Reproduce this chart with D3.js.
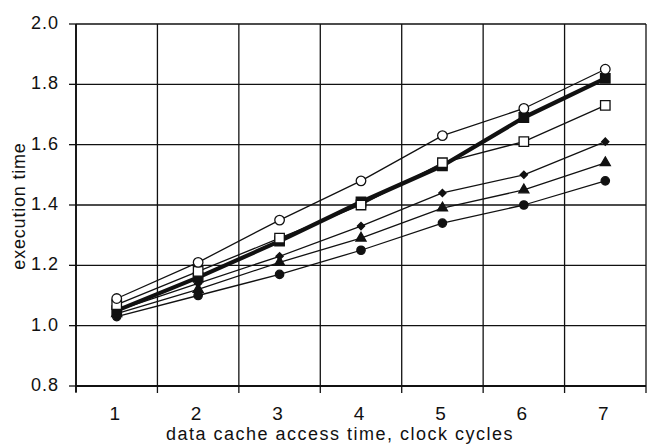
<!DOCTYPE html>
<html>
<head>
<meta charset="utf-8">
<script src="https://cdn.jsdelivr.net/npm/d3@7"></script>
<style>
  html, body { margin: 0; padding: 0; background: #fff; }
  svg { display: block; }
  text { font-family: "Liberation Sans", Arial, sans-serif; fill: #111; }
</style>
</head>
<body>
<svg id="chart" width="651" height="446"></svg>
<script>
// ---- data ----
const categories = ["1", "2", "3", "4", "5", "6", "7"];
const yTicks = [0.8, 1.0, 1.2, 1.4, 1.6, 1.8, 2.0];
const openCircle   = [1.09, 1.21, 1.35, 1.48, 1.63, 1.72, 1.85];
const filledSquare = [1.05, 1.16, 1.28, 1.41, 1.53, 1.69, 1.82];
const openSquare   = [1.07, 1.18, 1.29, 1.40, 1.54, 1.61, 1.73];
const diamond      = [1.05, 1.14, 1.23, 1.33, 1.44, 1.50, 1.61];
const triangle     = [1.04, 1.12, 1.21, 1.29, 1.39, 1.45, 1.54];
const filledCircle = [1.03, 1.10, 1.17, 1.25, 1.34, 1.40, 1.48];
const xTitle = "data cache access time, clock cycles";
const yTitle = "execution time";

// ---- layout ----
const svg = d3.select("#chart");
const pLeft = 76, pRight = 646, pTop = 24, pBottom = 386;
const x = d3.scaleBand().domain(categories).range([pLeft, pRight]).paddingInner(0).paddingOuter(0);
const y = d3.scaleLinear().domain([0.8, 2.0]).range([pBottom, pTop]);
const ink = "#111";

// horizontal grid
svg.append("g").selectAll("line").data(yTicks).join("line")
  .attr("x1", pLeft).attr("x2", pRight)
  .attr("y1", d => y(d)).attr("y2", d => y(d))
  .attr("stroke", ink).attr("stroke-width", 1.3);

// vertical grid at band boundaries
const bounds = categories.map(c => x(c)).concat([x(categories[categories.length - 1]) + x.bandwidth()]);
svg.append("g").selectAll("line").data(bounds).join("line")
  .attr("x1", d => d).attr("x2", d => d)
  .attr("y1", pTop).attr("y2", pBottom)
  .attr("stroke", ink).attr("stroke-width", 1.3);

// axis lines thicker
svg.append("line").attr("x1", pLeft).attr("x2", pLeft).attr("y1", pTop).attr("y2", pBottom + 6)
  .attr("stroke", ink).attr("stroke-width", 1.8);
svg.append("line").attr("x1", pLeft).attr("x2", pRight).attr("y1", pBottom).attr("y2", pBottom)
  .attr("stroke", ink).attr("stroke-width", 1.8);

// y ticks
svg.append("g").selectAll("line").data(yTicks).join("line")
  .attr("x1", pLeft - 7).attr("x2", pLeft)
  .attr("y1", d => y(d)).attr("y2", d => y(d))
  .attr("stroke", ink).attr("stroke-width", 1.3);
svg.append("g").selectAll("text").data(yTicks).join("text")
  .attr("x", 59).attr("y", d => y(d) + 5)
  .attr("text-anchor", "end")
  .attr("font-size", 18)
  .attr("letter-spacing", 1)
  .text(d => d.toFixed(1));

// x ticks at band boundaries
svg.append("g").selectAll("line").data(bounds).join("line")
  .attr("x1", d => d).attr("x2", d => d)
  .attr("y1", pBottom).attr("y2", pBottom + 7)
  .attr("stroke", ink).attr("stroke-width", 1.3);
svg.append("g").selectAll("text").data(categories).join("text")
  .attr("x", d => x(d) + x.bandwidth() / 2 - 2)
  .attr("y", 420)
  .attr("text-anchor", "middle")
  .attr("font-size", 19)
  .text(d => d);

// titles
svg.append("text")
  .attr("x", 340).attr("y", 440)
  .attr("text-anchor", "middle")
  .attr("font-size", 18)
  .attr("letter-spacing", 1.5)
  .text(xTitle);
svg.append("text")
  .attr("transform", "translate(25,206) rotate(-90)")
  .attr("text-anchor", "middle")
  .attr("font-size", 18)
  .attr("letter-spacing", 0.8)
  .text(yTitle);

// ---- series ----
const cx = (i) => x(categories[i]) + x.bandwidth() / 2;
const line = d3.line().x((d, i) => cx(i)).y(d => y(d));

const series = [
  { vals: filledCircle, w: 1.3, sym: d3.symbolCircle, size: 55, fill: ink, rot: 0 },
  { vals: triangle, w: 1.3, sym: d3.symbolTriangle, size: 44, fill: ink, rot: 0 },
  { vals: diamond, w: 1.3, sym: d3.symbolSquare, size: 26, fill: ink, rot: 45 },
  { vals: openSquare, w: 1.3, sym: d3.symbolSquare, size: 90, fill: "#fff", rot: 0 },
  { vals: filledSquare, w: 4.2, sym: d3.symbolSquare, size: 90, fill: ink, rot: 0 },
  { vals: openCircle, w: 1.3, sym: d3.symbolCircle, size: 72, fill: "#fff", rot: 0 }
];

series.forEach(s => {
  svg.append("path").datum(s.vals)
    .attr("d", line).attr("fill", "none")
    .attr("stroke", ink).attr("stroke-width", s.w).attr("stroke-linejoin", "round");
});
// open squares drawn over the thick line, as in the reference
const order = [series[0], series[1], series[2], series[4], series[3], series[5]];
order.forEach(s => {
  svg.append("g").selectAll("path").data(s.vals).join("path")
    .attr("transform", (d, i) => `translate(${cx(i)},${y(d)}) rotate(${s.rot})`)
    .attr("d", d3.symbol().type(s.sym).size(s.size))
    .attr("fill", s.fill).attr("stroke", ink).attr("stroke-width", 1.3);
});
</script>
</body>
</html>
